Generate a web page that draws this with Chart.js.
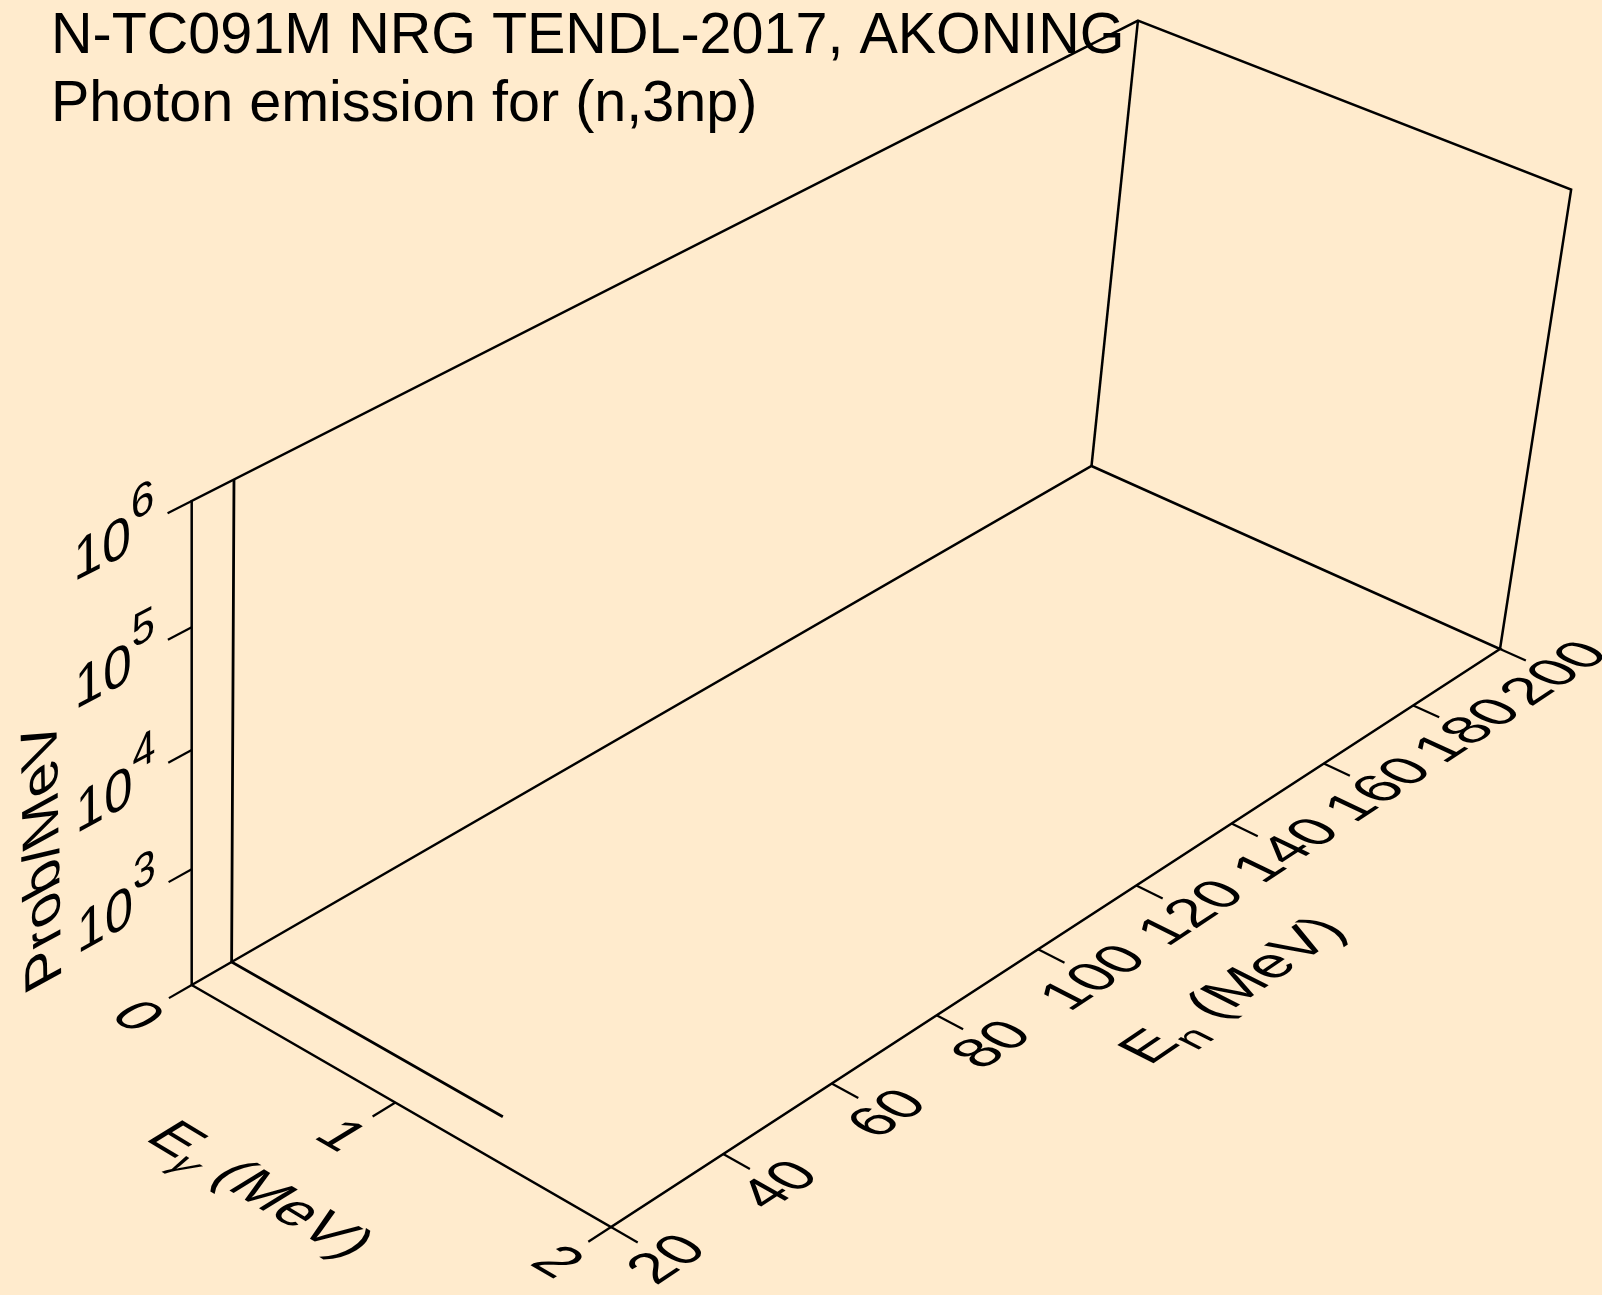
<!DOCTYPE html>
<html>
<head>
<meta charset="utf-8">
<title>N-TC091M photon emission for (n,3np)</title>
<script src="https://cdn.jsdelivr.net/npm/chart.js@4.4.1/dist/chart.umd.min.js"></script>
<style>
  html, body { margin: 0; padding: 0; background: #FFEBCD; }
  #wrap { position: relative; width: 1602px; height: 1295px; }
</style>
</head>
<body>
<div id="wrap"><canvas id="plot"></canvas></div>
<script>
// ---- data ----
const titleLines = ['N-TC091M NRG TENDL-2017, AKONING', 'Photon emission for (n,3np)'];

const egammaRange = [0, 2];            // MeV
const egammaTicks = [0, 1, 2];
const enRange = [20, 200];             // MeV
const enTicks = [20, 40, 60, 80, 100, 120, 140, 160, 180, 200];
const probRange = [1e2, 1e6];          // log axis, the floor is labelled 0
const probTicks = [1e3, 1e4, 1e5, 1e6];
const probTickExp = ['3', '4', '5', '6'];

// the only spectrum that shows up: one incident energy, spike at the lowest E-gamma
const spectrumEn = 27;
const spectrumEg = [0, 0, 1.32];
const spectrumProb = [1e6, 0, 0];

// ---- perspective view of the box, unit cube (u=Eg, v=En, w=logP) -> page px ----
const VIEW = [
    [385.40, 1060.44, -10.79, 191.7],
    [173.93, -450.42, -512.2, 985.0],
    [-0.05548, 0.14717, -0.05629, 1]
];
const FONT = '"Liberation Sans", Arial, sans-serif';
const INK = '#000000';

function toUnit(eg, en, p) {
    const u = (eg - egammaRange[0]) / (egammaRange[1] - egammaRange[0]);
    const v = (en - enRange[0]) / (enRange[1] - enRange[0]);
    let w = 0;
    if (p > 0) {
        const lo = Math.log10(probRange[0]), hi = Math.log10(probRange[1]);
        w = (Math.log10(p) - lo) / (hi - lo);
    }
    return [u, v, Math.min(1, Math.max(0, w))];
}

function project(q) {
    const [u, v, w] = q;
    const h = VIEW[2][0] * u + VIEW[2][1] * v + VIEW[2][2] * w + VIEW[2][3];
    return {
        x: (VIEW[0][0] * u + VIEW[0][1] * v + VIEW[0][2] * w + VIEW[0][3]) / h,
        y: (VIEW[1][0] * u + VIEW[1][1] * v + VIEW[1][2] * w + VIEW[1][3]) / h
    };
}

function polyline(points, width) {
    return {
        data: points.map(project),
        showLine: true,
        borderColor: INK,
        borderWidth: width,
        borderJoinStyle: 'miter',
        pointRadius: 0,
        fill: false,
        tension: 0,
        clip: false
    };
}

let datasets = [];

// box: floor, z axis, back top edges, back verticals
datasets.push(polyline([[0, 0, 0], [1, 0, 0], [1, 1, 0], [0, 1, 0], [0, 0, 0]], 2.5));
datasets.push(polyline([[0, 0, 0], [0, 0, 1], [0, 1, 1], [1, 1, 1], [1, 1, 0]], 2.5));
datasets.push(polyline([[0, 1, 0], [0, 1, 1]], 2.5));

// ticks
probTicks.forEach(p => {
    const q = toUnit(0, enRange[0], p);
    datasets.push(polyline([q, [q[0], q[1] - 0.022, q[2]]], 2.2));
});
egammaTicks.forEach(e => {
    const q = toUnit(e, enRange[0], 0);
    datasets.push(polyline([q, [q[0], q[1] - 0.022, q[2]]], 2.2));
});
enTicks.forEach(e => {
    const q = toUnit(egammaRange[1], e, 0);
    datasets.push(polyline([q, [q[0] + 0.06, q[1], q[2]]], 2.2));
});

// the spectrum
let curve = [];
for (let i = 0; i < spectrumEg.length; i++) {
    curve.push(toUnit(spectrumEg[i], spectrumEn, spectrumProb[i]));
}
datasets.push(polyline(curve, 2.8));

// ---- text drawn in the planes of the box ----
function inPlane(chart, q, right, down) {
    const sx = chart.scales.x, sy = chart.scales.y;
    const px = r => {
        const s = project(r);
        return [sx.getPixelForValue(s.x), sy.getPixelForValue(s.y)];
    };
    const e = 0.001;
    const o = px(q);
    const a = px([q[0] + right[0] * e, q[1] + right[1] * e, q[2] + right[2] * e]);
    const b = px([q[0] + down[0] * e, q[1] + down[1] * e, q[2] + down[2] * e]);
    let ax = a[0] - o[0], ay = a[1] - o[1];
    let bx = b[0] - o[0], by = b[1] - o[1];
    const la = Math.hypot(ax, ay), lb = Math.hypot(bx, by);
    chart.ctx.transform(ax / la, ay / la, bx / lb, by / lb, o[0], o[1]);
}

// pieces: [text, size, baseline shift, italic]
function drawPieces(ctx, pieces, align) {
    let total = 0;
    pieces.forEach(p => {
        ctx.font = (p[3] ? 'italic ' : '') + p[1] + 'px ' + FONT;
        p.w = ctx.measureText(p[0]).width;
        total += p.w;
    });
    let x = align === 'right' ? -total : -total / 2;
    const base = pieces[0][1] * 0.358;
    pieces.forEach(p => {
        ctx.font = (p[3] ? 'italic ' : '') + p[1] + 'px ' + FONT;
        ctx.fillText(p[0], x, base + p[2]);
        x += p.w;
    });
}

const labelsPlugin = {
    id: 'labels3d',
    afterDatasetsDraw(chart) {
        const ctx = chart.ctx;
        ctx.save();
        ctx.fillStyle = INK;
        ctx.textAlign = 'left';
        ctx.textBaseline = 'alphabetic';

        // title
        ctx.font = '57.5px ' + FONT;
        ctx.fillText(titleLines[0], 51, 53);
        ctx.fillText(titleLines[1], 51, 121);

        // Prob/MeV ticks and title, plane of the z axis
        probTicks.forEach((p, i) => {
            const q = toUnit(0, enRange[0], p);
            ctx.save();
            inPlane(chart, [q[0], q[1] - 0.034, q[2]], [0, 1, 0], [0, 0, -1]);
            drawPieces(ctx, [['10', 58, 0], [probTickExp[i], 47, -31]], 'right');
            ctx.restore();
        });
        ctx.save();
        inPlane(chart, [0, -0.14, 0.45], [0, 0, 1], [0, 1, 0]);
        drawPieces(ctx, [['Prob/MeV', 59, 0]], 'center');
        ctx.restore();

        // E-gamma ticks and title, floor plane
        egammaTicks.forEach(e => {
            const q = toUnit(e, enRange[0], 0);
            ctx.save();
            inPlane(chart, [q[0], q[1] - 0.05, q[2]], [1, 0, 0], [0, -1, 0]);
            drawPieces(ctx, [[String(e), 58, 0]], 'center');
            ctx.restore();
        });
        ctx.save();
        inPlane(chart, [0.51, -0.13, 0], [1, 0, 0], [0, -1, 0]);
        drawPieces(ctx, [['E', 59, 0], ['\u03b3', 40, 13, true], [' (MeV)', 59, 0]], 'center');
        ctx.restore();

        // En ticks and title, floor plane
        enTicks.forEach(e => {
            const q = toUnit(egammaRange[1], e, 0);
            ctx.save();
            inPlane(chart, [q[0] + 0.12, q[1], q[2]], [0, 1, 0], [1, 0, 0]);
            drawPieces(ctx, [[String(e), 58, 0]], 'center');
            ctx.restore();
        });
        ctx.save();
        inPlane(chart, [1.32, 0.5, 0], [0, 1, 0], [1, 0, 0]);
        drawPieces(ctx, [['E', 59, 0], ['n', 44, 16], [' (MeV)', 59, 0]], 'center');
        ctx.restore();

        ctx.restore();
    }
};

const backgroundPlugin = {
    id: 'paper',
    beforeDraw(chart) {
        const ctx = chart.ctx;
        ctx.save();
        ctx.fillStyle = '#FFEBCD';
        ctx.fillRect(0, 0, chart.width, chart.height);
        ctx.restore();
    }
};

new Chart(document.getElementById('plot'), {
    type: 'scatter',
    data: { datasets: datasets },
    options: {
        responsive: true,
        maintainAspectRatio: false,
        animation: false,
        events: [],
        layout: { padding: 0 },
        plugins: {
            legend: { display: false },
            tooltip: { enabled: false }
        },
        scales: {
            x: { type: 'linear', min: 0, max: 1602, display: false },
            y: { type: 'linear', min: 0, max: 1295, reverse: true, display: false }
        }
    },
    plugins: [backgroundPlugin, labelsPlugin]
});
</script>
</body>
</html>
